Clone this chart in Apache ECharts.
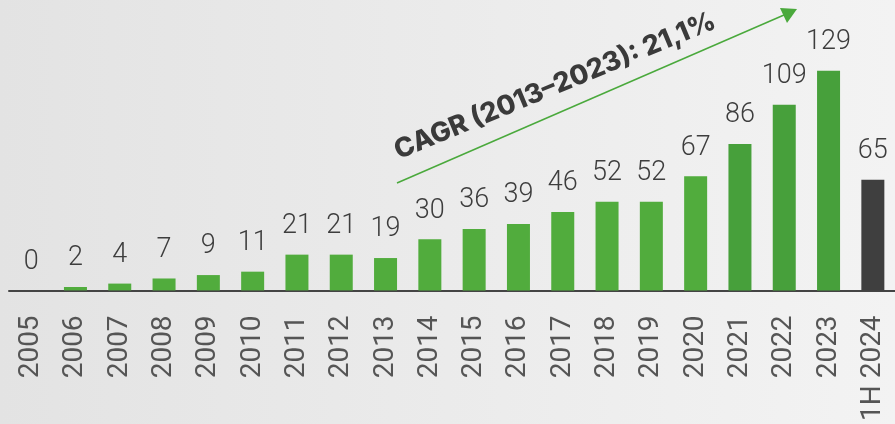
<!DOCTYPE html>
<html>
<head>
<meta charset="utf-8">
<script src="https://cdn.jsdelivr.net/npm/echarts@6/dist/echarts.min.js"></script>
<style>
  html, body { margin: 0; padding: 0; }
  #main { width: 895px; height: 424px; }
</style>
</head>
<body>
<div id="main"></div>
<script>
const categories = ['2005', '2006', '2007', '2008', '2009', '2010', '2011', '2012', '2013', '2014',
  '2015', '2016', '2017', '2018', '2019', '2020', '2021', '2022', '2023', '1H 2024'];
const values = [0, 2, 4, 7, 9, 11, 21, 21, 19, 30, 36, 39, 46, 52, 52, 67, 86, 109, 129, 65];
const cagrText = 'CAGR (2013–2023): 21,1%';

// цвет столбцов: 2021-2023 чуть темнее, 1H 2024 серый
const barColor = (i) => {
  if (categories[i] === '1H 2024') return '#3f3f3f';
  if (i >= 16) return '#47a03b';
  return '#51ac3d';
};

const myChart = echarts.init(document.getElementById('main'));
const option = {
  backgroundColor: {
    type: 'linear', x: 0, y: 0, x2: 1, y2: 0,
    colorStops: [
      { offset: 0, color: '#e3e3e3' },
      { offset: 1, color: '#f3f3f3' }
    ]
  },
  animation: false,
  grid: { left: 9, width: 889, top: 35, bottom: 130 },
  xAxis: {
    type: 'category',
    data: categories,
    axisTick: { show: false },
    axisLine: { lineStyle: { color: '#444', width: 2 } },
    axisLabel: {
      rotate: 90,
      interval: 0,
      margin: 25,
      fontSize: 28,
      fontFamily: 'Roboto',
      color: '#555'
    }
  },
  yAxis: {
    type: 'value',
    min: 0,
    max: 150,
    show: false
  },
  graphic: [
    {
      type: 'line',
      shape: { x1: 397, y1: 183, x2: 784, y2: 15 },
      style: { stroke: '#4aa93c', lineWidth: 1.5 }
    },
    {
      type: 'polygon',
      shape: { points: [[797, 9], [780, 8], [787, 23]] },
      style: { fill: '#4aa93c' }
    },
    {
      type: 'text',
      x: 555,
      y: 86,
      rotation: 22.5 * Math.PI / 180,
      style: {
        text: cagrText,
        fontFamily: 'Inter',
        fontWeight: 800,
        fontSize: 27,
        fill: '#3a3a3a',
        textAlign: 'center',
        textVerticalAlign: 'middle'
      }
    }
  ],
  series: [
    {
      type: 'bar',
      barWidth: 23,
      data: values.map((v, i) => ({ value: v, itemStyle: { color: barColor(i) } })),
      label: {
        show: true,
        position: 'top',
        distance: 15,
        fontSize: 27,
        fontWeight: 300,
        fontFamily: 'Roboto',
        color: '#3d3d3d'
      }
    }
  ]
};
myChart.setOption(option);
</script>
</body>
</html>
